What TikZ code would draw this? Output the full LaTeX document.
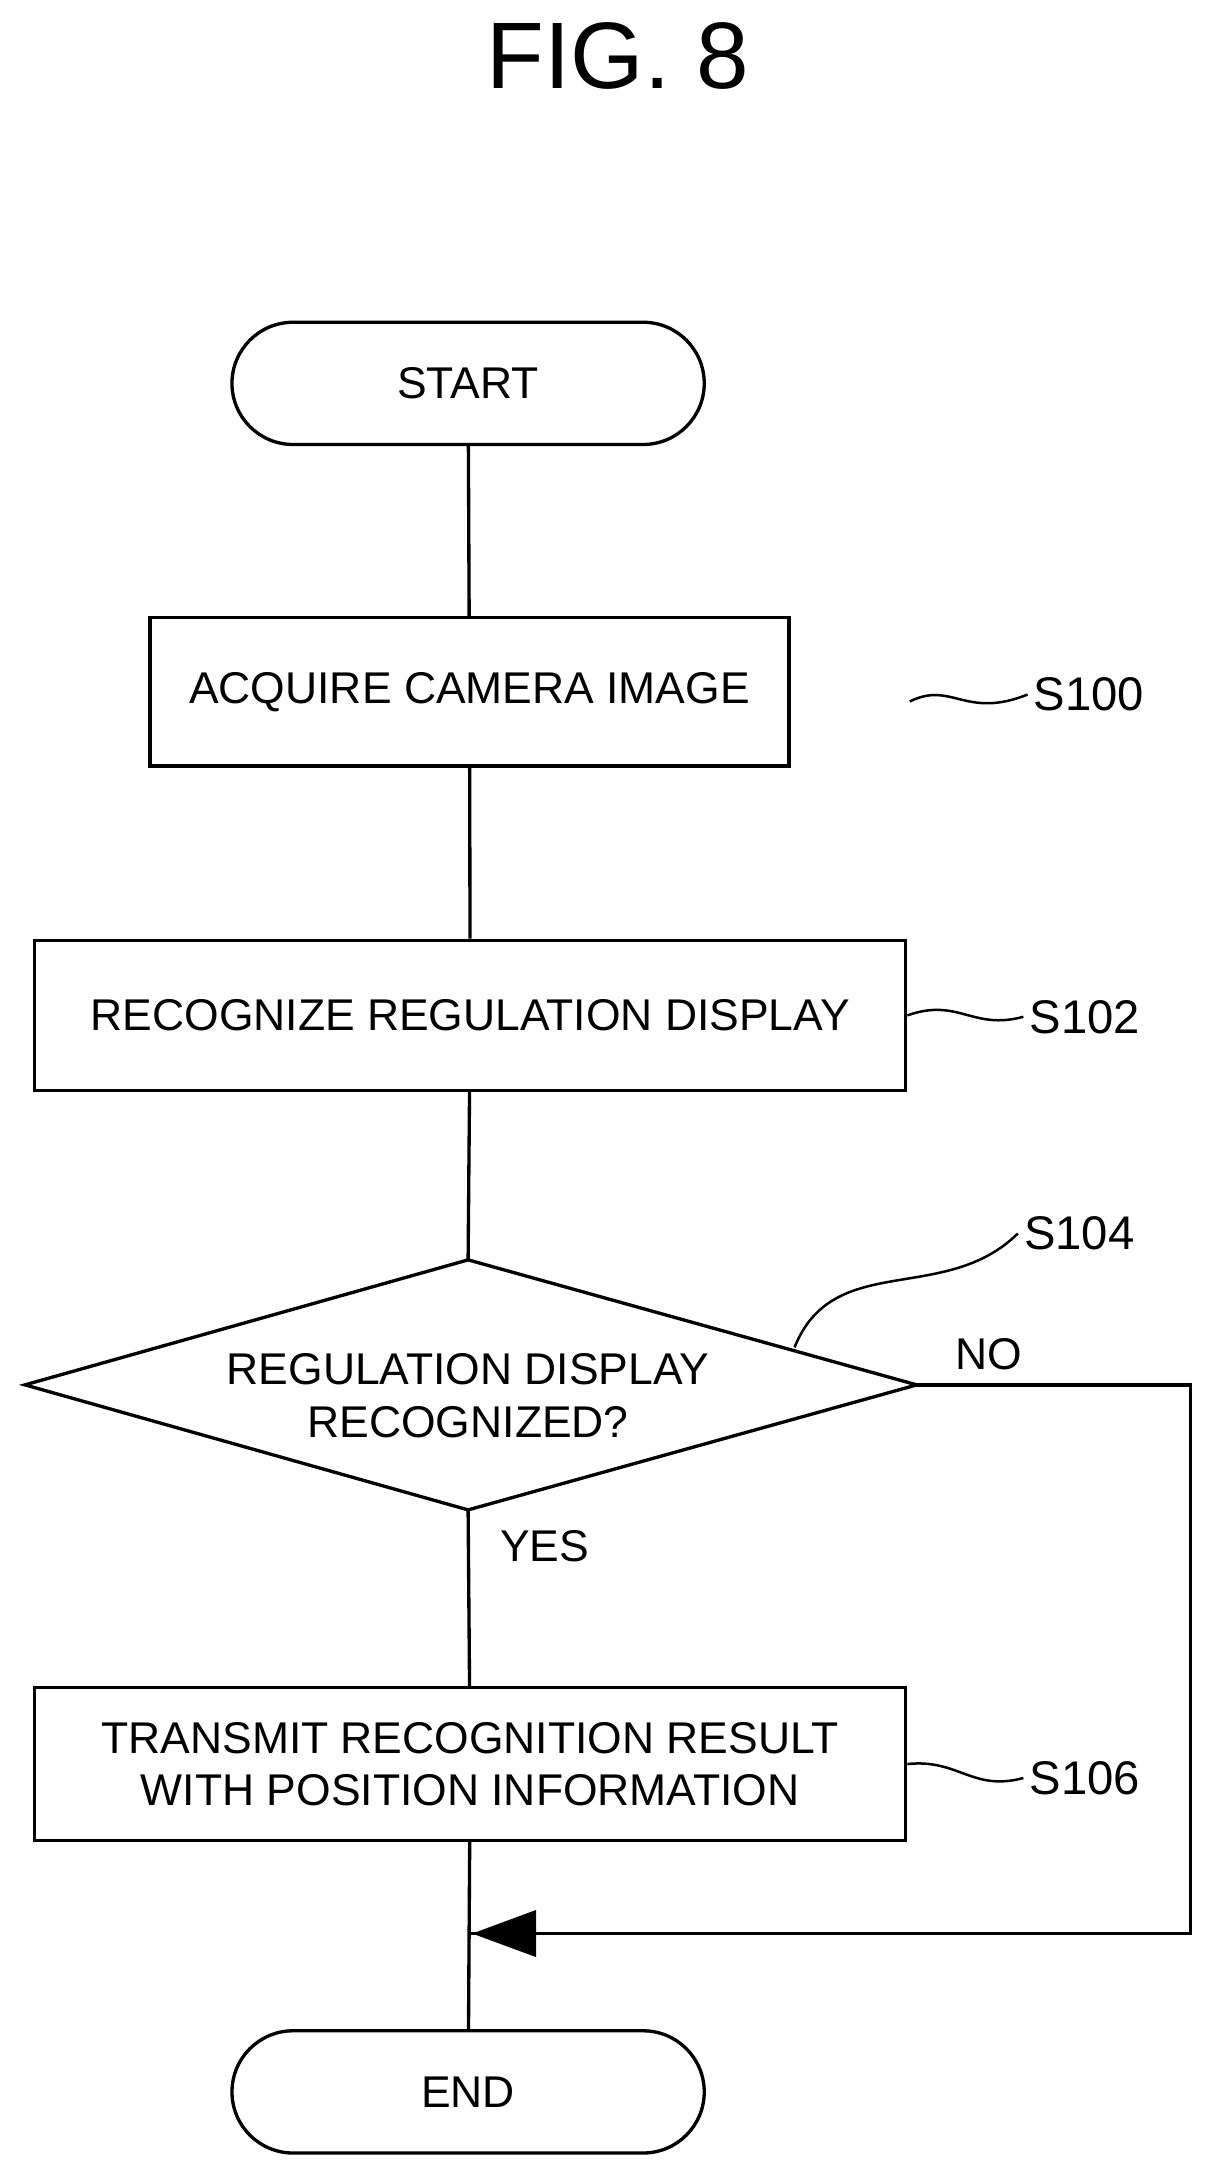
\documentclass[tikz,border=0pt]{standalone}
\usepackage{fontspec}
\setmainfont{Liberation Sans}
\usetikzlibrary{shapes.geometric,arrows.meta}
\begin{document}
\begin{tikzpicture}[x=1pt,y=-1pt,line width=2.4pt,
  txt/.style={font=\fontsize{32}{38}\selectfont,align=center},
  box/.style={draw,rectangle,txt},
  term/.style={draw,rounded corners=44pt,txt},
  lab/.style={font=\fontsize{34}{40}\selectfont}]
\useasboundingbox (0,0) rectangle (875,1568);
\node[font=\fontsize{68}{78}\selectfont] (fig) at (445,40) {FIG. 8};
\node[term,minimum width=340pt,minimum height=88pt] (start) at (337,276) {START};
\node[box,minimum width=460pt,minimum height=107pt] (s100) at (338,498) {ACQUIRE CAMERA IMAGE};
\node[box,minimum width=627pt,minimum height=108pt] (s102) at (338.5,731) {RECOGNIZE REGULATION DISPLAY};
\coordinate (dl) at (18,997); \coordinate (dt) at (337,907);
\coordinate (dr) at (660,997); \coordinate (db) at (337,1087);
\draw (dl) -- (dt) -- (dr) -- (db) -- cycle;
\node[txt] (dtext) at (337,1005) {REGULATION DISPLAY\\RECOGNIZED?};
\node[box,minimum width=627pt,minimum height=110pt] (s106) at (338.5,1270) {TRANSMIT RECOGNITION RESULT\\WITH POSITION INFORMATION};
\node[term,minimum width=340pt,minimum height=88pt] (end) at (337,1506) {END};
\coordinate (m) at (337,1392);
\coordinate (c1) at (857,997); \coordinate (c2) at (857,1392);
\draw (start) -- (s100);
\draw (s100) -- (s102);
\draw (s102) -- (dt);
\draw (db) -- (s106);
\draw (s106) -- (end);
\draw (dr) -- (c1) -- (c2) -- (m);
\fill (340,1392) -- (386,1375) -- (386,1409) -- cycle;
\node[txt] (no) at (712,975) {NO};
\node[txt] (yes) at (392,1113) {YES};
\node[lab] (l100) at (784,500) {S100};
\node[lab] (l102) at (781,732) {S102};
\node[lab] (l104) at (777,888) {S104};
\node[lab] (l106) at (781,1280) {S106};
\coordinate (a100) at (655,505);
\draw[line width=1.8pt] (a100) .. controls (685,490) and (695,518) .. (l100.west);
\draw[line width=1.8pt] (s102.east) .. controls (690,718) and (700,742) .. (l102.west);
\draw[line width=1.8pt] (s106.east) .. controls (690,1266) and (700,1290) .. (l106.west);
\draw[line width=1.8pt] (572,970) .. controls (600,900) and (680,940) .. (l104.west);
\end{tikzpicture}
\end{document}
